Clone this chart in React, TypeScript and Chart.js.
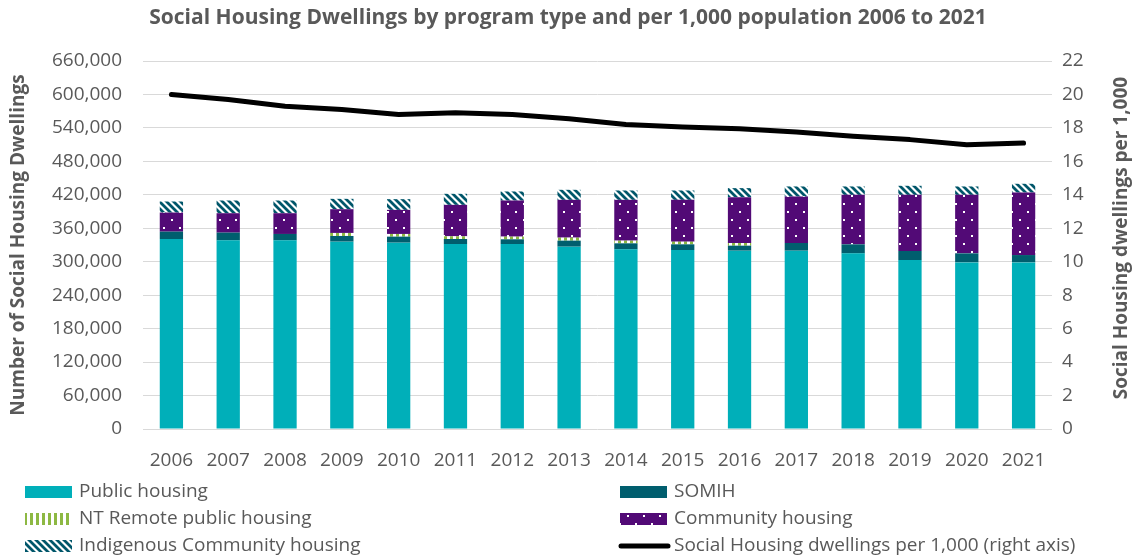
import React, { useEffect, useRef } from "react";
import { Chart, registerables } from "chart.js";

Chart.register(...registerables);

const years = ["2006", "2007", "2008", "2009", "2010", "2011", "2012", "2013", "2014", "2015", "2016", "2017", "2018", "2019", "2020", "2021"];
const publicHousing = [340800, 338400, 338400, 336000, 334200, 331800, 331800, 327000, 322200, 321000, 319800, 319800, 315000, 303000, 298800, 298800];
const somih = [13200, 13800, 11400, 10200, 10800, 9000, 8400, 10800, 10800, 10200, 9000, 13800, 16200, 16200, 16200, 13200];
const ntRemote = [0, 0, 0, 5400, 4800, 4800, 4800, 5400, 4800, 4800, 4800, 0, 0, 0, 0, 0];
const communityHousing = [34200, 34800, 37200, 42600, 43200, 56400, 64800, 67800, 73200, 75000, 82200, 83400, 88800, 100800, 105000, 112200];
const indigenousCommunity = [19800, 22800, 22800, 18600, 19200, 19800, 16200, 18000, 16800, 16800, 16200, 18000, 15000, 16200, 15000, 15600];
const perThousand = [20.0, 19.7, 19.3, 19.1, 18.8, 18.9, 18.8, 18.55, 18.2, 18.05, 17.95, 17.75, 17.5, 17.3, 17.0, 17.1];

const seriesLabels = [
  "Public housing",
  "SOMIH",
  "NT Remote public housing",
  "Community housing",
  "Indigenous Community housing",
  "Social Housing dwellings per 1,000 (right axis)",
];
const titleText = "Social Housing Dwellings by program type and per 1,000 population 2006 to 2021";
const leftAxisTitle = "Number of Social Housing Dwellings";
const rightAxisTitle = "Social Housing dwellings per 1,000";

const FONT = "'Open Sans', 'Noto Sans', sans-serif";
const TEXT = "#595959";
const C_PUBLIC = "#00AFB9";
const C_SOMIH = "#005E6E";
const C_GREEN = "#8DB843";
const C_PURPLE = "#520A76";
const C_ICH = "#00566A";

function tile(size: number, draw: (ctx: CanvasRenderingContext2D) => void): CanvasPattern {
  const c = document.createElement("canvas");
  c.width = size;
  c.height = size;
  const ctx = c.getContext("2d")!;
  draw(ctx);
  const p = document.createElement("canvas").getContext("2d")!.createPattern(c, "repeat")!;
  return p;
}

function makePatterns() {
  const nt = tile(6, (ctx) => {
    ctx.fillStyle = "#ffffff";
    ctx.fillRect(0, 0, 6, 6);
    ctx.fillStyle = C_GREEN;
    ctx.fillRect(0, 0, 3, 6);
  });
  const community = tile(16, (ctx) => {
    ctx.fillStyle = C_PURPLE;
    ctx.fillRect(0, 0, 16, 16);
    ctx.fillStyle = "#ffffff";
    ctx.fillRect(3, 3, 2, 2);
    ctx.fillRect(11, 11, 2, 2);
  });
  const ich = tile(7, (ctx) => {
    ctx.fillStyle = "#ffffff";
    ctx.fillRect(0, 0, 7, 7);
    ctx.strokeStyle = C_ICH;
    ctx.lineWidth = 2.8;
    ctx.beginPath();
    for (const k of [-7, 0, 7]) {
      ctx.moveTo(k - 1, -1);
      ctx.lineTo(k + 8, 8);
    }
    ctx.stroke();
  });
  return { nt, community, ich };
}

const legendPlugin = {
  id: "customLegend",
  afterDraw(chart: any) {
    const ctx: CanvasRenderingContext2D = chart.ctx;
    const cols = [25, Math.round(chart.width * 0.5458)];
    const rows = [492, 519, 546];
    ctx.save();
    chart.data.datasets.forEach((ds: any, i: number) => {
      const x = cols[i % 2];
      const cy = rows[Math.floor(i / 2)];
      if (ds.type === "line") {
        ctx.strokeStyle = ds.borderColor;
        ctx.lineWidth = 5;
        ctx.lineCap = "round";
        ctx.beginPath();
        ctx.moveTo(x + 1, cy);
        ctx.lineTo(x + 48, cy);
        ctx.stroke();
      } else {
        ctx.fillStyle = ds.backgroundColor;
        ctx.fillRect(x, cy - 6, 47, 12);
      }
      ctx.fillStyle = TEXT;
      ctx.font = `19px ${FONT}`;
      ctx.textBaseline = "middle";
      ctx.textAlign = "left";
      ctx.fillText(ds.label, x + 54, cy);
    });
    // right axis title
    ctx.translate(1122, 238);
    ctx.rotate(-Math.PI / 2);
    ctx.font = `bold 19px ${FONT}`;
    ctx.textAlign = "center";
    ctx.textBaseline = "middle";
    ctx.fillStyle = TEXT;
    ctx.fillText(rightAxisTitle, 0, 0);
    ctx.restore();
  },
};

export default function App() {
  const ref = useRef<HTMLCanvasElement | null>(null);

  useEffect(() => {
    document.body.style.margin = "0";
    const canvas = ref.current!;
    const pats = makePatterns();
    const chart = new Chart(canvas, {
      type: "bar",
      data: {
        labels: years,
        datasets: [
          { type: "bar", label: seriesLabels[0], data: publicHousing, backgroundColor: C_PUBLIC, yAxisID: "y", order: 1 },
          { type: "bar", label: seriesLabels[1], data: somih, backgroundColor: C_SOMIH, yAxisID: "y", order: 1 },
          { type: "bar", label: seriesLabels[2], data: ntRemote, backgroundColor: pats.nt, yAxisID: "y", order: 1 },
          { type: "bar", label: seriesLabels[3], data: communityHousing, backgroundColor: pats.community, yAxisID: "y", order: 1 },
          { type: "bar", label: seriesLabels[4], data: indigenousCommunity, backgroundColor: pats.ich, yAxisID: "y", order: 1 },
          {
            type: "line",
            label: seriesLabels[5],
            data: perThousand,
            borderColor: "#000000",
            backgroundColor: "#000000",
            borderWidth: 5,
            borderCapStyle: "round",
            borderJoinStyle: "round",
            pointRadius: 0,
            tension: 0,
            yAxisID: "y1",
            order: 0,
          },
        ] as any,
      },
      options: {
        responsive: false,
        animation: false,
        devicePixelRatio: 1,
        layout: { padding: { left: 0, right: 0, top: 0, bottom: 85 } },
        datasets: { bar: { barPercentage: 0.41, categoryPercentage: 1 } } as any,
        plugins: {
          legend: { display: false },
          tooltip: { enabled: false },
          title: {
            display: true,
            text: titleText,
            color: TEXT,
            font: { family: FONT, size: 21, weight: "bold", lineHeight: 1.2 },
            padding: { top: 5, bottom: 30.8 },
          },
        },
        scales: {
          x: {
            stacked: true,
            grid: { display: false, drawTicks: false },
            border: { display: false },
            ticks: { color: TEXT, font: { family: FONT, size: 19 }, padding: 20, maxRotation: 0 },
            afterFit: (s: any) => {
              s.height = 45;
            },
          },
          y: {
            position: "left",
            stacked: true,
            min: 0,
            max: 660000,
            grid: { color: "#d9d9d9", lineWidth: 1, drawTicks: false },
            border: { display: false },
            ticks: {
              stepSize: 60000,
              maxTicksLimit: 20,
              color: TEXT,
              font: { family: FONT, size: 19 },
              padding: 21,
              callback: (v: any) => Number(v).toLocaleString("en-US"),
            },
            title: {
              display: true,
              text: leftAxisTitle,
              color: TEXT,
              font: { family: FONT, size: 19, weight: "bold" },
              padding: { top: 7, bottom: 0 },
            },
            afterFit: (s: any) => {
              s.width = 143;
            },
          },
          y1: {
            position: "right",
            stacked: false,
            min: 0,
            max: 22,
            grid: { display: false, drawTicks: false },
            border: { display: false },
            ticks: {
              stepSize: 2,
              maxTicksLimit: 20,
              color: TEXT,
              font: { family: FONT, size: 19 },
              padding: 10,
            },
            afterFit: (s: any) => {
              s.width = 84;
            },
          },
        },
      } as any,
      plugins: [legendPlugin],
    });
    return () => chart.destroy();
  }, []);

  return (
    <div style={{ width: 1136, height: 559, background: "#ffffff" }}>
      <canvas ref={ref} width={1136} height={559} style={{ display: "block" }} />
    </div>
  );
}
